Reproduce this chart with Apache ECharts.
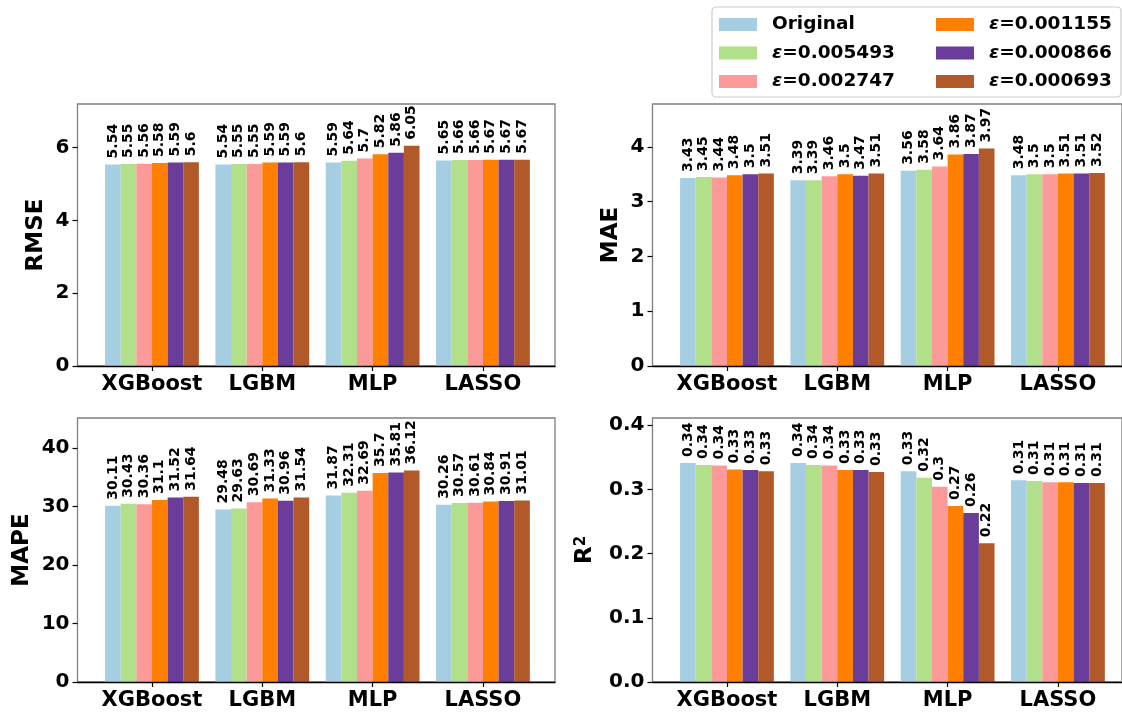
<!DOCTYPE html>
<html>
<head>
<meta charset="utf-8">
<script src="https://cdn.jsdelivr.net/npm/echarts@6/dist/echarts.min.js"></script>
<style>
html,body{margin:0;padding:0;background:#fff;}
#chart{width:1122px;height:712px;}
</style>
</head>
<body>
<div id="chart"></div>
<script>
// ---------- data ----------
const categories = ['XGBoost', 'LGBM', 'MLP', 'LASSO'];
const seriesNames = ['Original', 'ε=0.005493', 'ε=0.002747', 'ε=0.001155', 'ε=0.000866', 'ε=0.000693'];

// rows = series (in seriesNames order), columns = categories
const rmse = [
  [5.54, 5.54, 5.59, 5.65],
  [5.55, 5.55, 5.64, 5.66],
  [5.56, 5.55, 5.70, 5.66],
  [5.58, 5.59, 5.82, 5.67],
  [5.59, 5.59, 5.86, 5.67],
  [5.60, 5.60, 6.05, 5.67]
];
const mae = [
  [3.43, 3.39, 3.56, 3.48],
  [3.45, 3.39, 3.58, 3.50],
  [3.44, 3.46, 3.64, 3.50],
  [3.48, 3.50, 3.86, 3.51],
  [3.50, 3.47, 3.87, 3.51],
  [3.51, 3.51, 3.97, 3.52]
];
const mape = [
  [30.11, 29.48, 31.87, 30.26],
  [30.43, 29.63, 32.31, 30.57],
  [30.36, 30.69, 32.69, 30.61],
  [31.10, 31.33, 35.70, 30.84],
  [31.52, 30.96, 35.81, 30.91],
  [31.64, 31.54, 36.12, 31.01]
];
const r2 = [
  [0.341, 0.341, 0.328, 0.314],
  [0.338, 0.338, 0.318, 0.313],
  [0.337, 0.337, 0.304, 0.311],
  [0.331, 0.330, 0.274, 0.311],
  [0.330, 0.330, 0.263, 0.310],
  [0.328, 0.327, 0.216, 0.310]
];

const rmseTicks = [0, 2, 4, 6];
const maeTicks = [0, 1, 2, 3, 4];
const mapeTicks = [0, 10, 20, 30, 40];
const r2Ticks = [0, 0.1, 0.2, 0.3, 0.4];

// ---------- styling ----------
const colors = ['#a6cee3', '#b2df8a', '#fb9a99', '#ff7f00', '#6a3d9a', '#b15928'];
const FONT = 'DejaVu Sans';

const panels = [
  { data: rmse, ticks: rmseTicks, max: 7.2, name: 'RMSE', fmt: v => String(v), nameGap: 30,
    frame: { left: 77.5, top: 104, width: 477.5, height: 262 }, barLeft: 96.8 },
  { data: mae, ticks: maeTicks, max: 4.78, name: 'MAE', fmt: v => String(v), nameGap: 30,
    frame: { left: 652.5, top: 104, width: 476.5, height: 262 }, barLeft: 671.8 },
  { data: mape, ticks: mapeTicks, max: 45.1, name: 'MAPE', fmt: v => String(v), nameGap: 44,
    frame: { left: 77.5, top: 418, width: 477.5, height: 264 }, barLeft: 96.8 },
  { data: r2, ticks: r2Ticks, max: 0.411, name: '{a|R}{b|2}', fmt: v => v.toFixed(1), nameGap: 56,
    frame: { left: 652.5, top: 418, width: 476.5, height: 264 }, barLeft: 671.8 }
];
const bandW = 110.33;

const grid = [], xAxis = [], yAxis = [], series = [];
panels.forEach((p, i) => {
  const f = p.frame;
  grid.push({ left: f.left, top: f.top, width: f.width, height: f.height, show: true,
    borderColor: '#7f7f7f', borderWidth: 1.3, backgroundColor: 'transparent' });
  grid.push({ left: p.barLeft, top: f.top, width: bandW * categories.length, height: f.height });
  xAxis.push({ gridIndex: 2 * i, type: 'value', min: 0, max: 1, z: 5,
    axisLine: { show: true, onZero: false, lineStyle: { color: '#000', width: 1.3 } },
    axisTick: { show: false }, axisLabel: { show: false }, splitLine: { show: false } });
  yAxis.push({ gridIndex: 2 * i, type: 'value', min: 0, max: 1, show: false });
  xAxis.push({ gridIndex: 2 * i + 1, type: 'category', data: categories,
    axisLine: { show: false },
    axisTick: { show: true, alignWithLabel: true, length: 5, lineStyle: { color: '#000', width: 1.2 } },
    axisLabel: { interval: 0, fontFamily: FONT, fontSize: 21, fontWeight: 'bold', color: '#000', margin: 8 } });
  yAxis.push({ gridIndex: 2 * i + 1, type: 'value', min: 0, max: p.max,
    offset: p.barLeft - f.left,
    axisLine: { show: false },
    axisTick: { show: true, length: 5, customValues: p.ticks, lineStyle: { color: '#000', width: 1.2 } },
    axisLabel: { customValues: p.ticks, formatter: p.fmt, fontFamily: FONT, fontSize: 20,
      fontWeight: 'bold', color: '#000', margin: 8 },
    splitLine: { show: false },
    name: p.name, nameLocation: 'middle', nameGap: p.nameGap,
    nameTextStyle: { fontFamily: FONT, fontSize: 23, fontWeight: 'bold', color: '#000',
      rich: {
        a: { fontFamily: FONT, fontSize: 23, fontWeight: 'bold', color: '#000' },
        b: { fontFamily: FONT, fontSize: 15, fontWeight: 'bold', color: '#000', verticalAlign: 'top' }
      } } });
  seriesNames.forEach((s, k) => {
    series.push({
      type: 'bar', name: s, xAxisIndex: 2 * i + 1, yAxisIndex: 2 * i + 1,
      data: p.data[k], barGap: '0%', barCategoryGap: '15%',
      itemStyle: { color: colors[k] },
      label: { show: true, position: 'top', rotate: 90, align: 'left', verticalAlign: 'middle',
        distance: 6, fontFamily: FONT, fontSize: 14, fontWeight: 'bold', color: '#000',
        formatter: q => String(Math.round(q.value * 100) / 100) }
    });
  });
});

const legendText = {
  fontFamily: FONT, fontSize: 18.5, fontWeight: 'bold', color: '#000',
  rich: {
    p: { width: 10 },
    e: { fontFamily: FONT, fontSize: 18.5, fontWeight: 'bold', fontStyle: 'italic', color: '#000' },
    t: { fontFamily: FONT, fontSize: 18.5, fontWeight: 'bold', color: '#000' }
  }
};
const legendFmt = n => n.charAt(0) === 'ε' ? '{p|}{e|ε}{t|' + n.slice(1) + '}' : '{p|}{t|' + n + '}';
const legendBase = { orient: 'vertical', top: 15, itemWidth: 38, itemHeight: 13, itemGap: 9.5,
  padding: 0, icon: 'rect', selectedMode: false, textStyle: legendText, formatter: legendFmt };

const option = {
  backgroundColor: '#fff',
  animation: false,
  color: colors,
  graphic: [{ type: 'rect', z: 0, shape: { x: 712, y: 7, width: 409, height: 90, r: 4 },
    style: { fill: '#fff', stroke: '#cccccc', lineWidth: 1.2 } }],
  legend: [
    Object.assign({}, legendBase, { left: 719, data: seriesNames.slice(0, 3) }),
    Object.assign({}, legendBase, { left: 936, data: seriesNames.slice(3, 6) })
  ],
  grid, xAxis, yAxis, series
};

const chart = echarts.init(document.getElementById('chart'), null, { renderer: 'canvas' });
chart.setOption(option);
</script>
</body>
</html>
